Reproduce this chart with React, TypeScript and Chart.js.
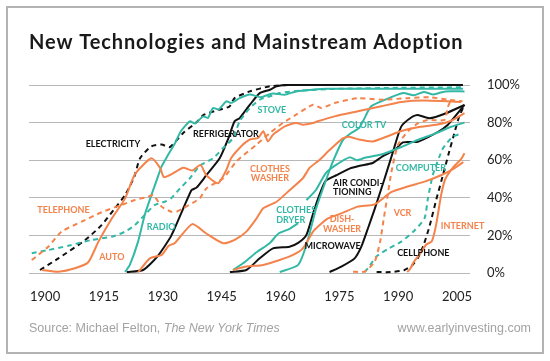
import React, { useEffect, useRef } from 'react';
import { Chart, registerables } from 'chart.js';

Chart.register(...registerables);

const ORANGE = '#f4834b';
const TEAL = '#33b8a5';
const BLACK = '#111111';

const yearTicks = [1900, 1915, 1930, 1945, 1960, 1975, 1990, 2005];
const pctTicks = [0, 20, 40, 60, 80, 100];

// [year, percent of households]
const electricity = [[1898.7,1.6],[1903.4,7.8],[1910.2,17.5],[1914.4,25.5],[1917.8,34.4],[1920.4,41.5],[1922.7,51],[1924.2,61],[1927.1,67.4],[1929.7,68.3],[1931.8,67],[1935.2,74.5],[1938.5,80],[1940.5,84.2],[1944.5,86.9],[1947,88.6],[1948.3,93],[1952.2,96.6],[1957.3,99.3],[1962,100],[2006.5,100]];
const refrigerator = [[1920.8,0.5],[1925,1.6],[1928.6,8.7],[1932.2,20],[1937.3,44],[1938.6,45.4],[1941.1,52],[1944.5,61],[1946.6,71],[1948.3,80.7],[1949.6,82.4],[1952.2,89.5],[1954.7,95.7],[1957.3,97.5],[1959,99.3],[1962,100],[2006.5,100]];
const telephone = [[1896.6,6.9],[1900.8,14],[1904.2,22],[1909.3,27.3],[1914.4,32.3],[1919.5,36.2],[1922.9,38.8],[1926.3,40.6],[1927.6,41.5],[1929.7,35.3],[1932.2,32.6],[1933.5,32.6],[1935.2,34.4],[1939.4,39.7],[1941.1,45],[1945.4,50.4],[1948.8,59.4],[1953.9,68.3],[1957.3,74.5],[1960.6,79.8],[1964,84.2],[1968.3,89.5],[1970.4,87.8],[1973.8,90.4],[1979.7,93],[1985.7,92.2],[1992.4,93],[1998,93.5],[2002.6,92.2],[2006.4,91.3]];
const auto = [[1899.2,1.6],[1903.4,0.7],[1907.6,2.5],[1911,5.7],[1913.6,16.7],[1917,29],[1920.4,39.7],[1922.9,52.5],[1927.1,61],[1929.3,55.9],[1930.3,51],[1932.6,53],[1935.2,56],[1937.5,54.5],[1939.6,57.5],[1941.1,52],[1944.1,47.7],[1946.2,54.8],[1947.4,61],[1950,67.4],[1952.2,71],[1954.3,71.8],[1955.6,75.4],[1956.8,70],[1958.1,73.6],[1959.8,76.2],[1961.1,78],[1964,79.8],[1965.7,78.9],[1968.3,79.8],[1969.5,80.7],[1973.8,83.3],[1979.7,86],[1985.7,88.7],[1990.8,91],[1996.7,91.7],[2006,91]];
const clothesWasher = [[1923.7,0.3],[1926.7,7.8],[1929.7,9.6],[1931.5,14.5],[1933.1,16],[1937.5,26],[1941.1,21],[1945.4,15.8],[1948.3,17.6],[1951.3,22],[1953.9,29],[1955.6,34.4],[1959,37.9],[1962.3,44],[1965.7,50.4],[1967.4,55.9],[1970,60.3],[1972.5,65.4],[1975.9,71.6],[1977.5,72.5],[1980,71],[1983.5,70],[1987,72.5],[1990.8,75.5],[1995,77.5],[2000,79],[2003.5,81],[2006.9,85]];
const dishwasher = [[1947.9,1.6],[1951.3,3.4],[1955.6,4.3],[1959.8,6.9],[1963.2,9.6],[1965.7,13.1],[1968.3,22],[1970,25.5],[1972.1,29],[1975.5,31.7],[1979.7,35.3],[1984,36.5],[1988.2,43],[1992.4,46],[1996.7,48.6],[2000.9,52],[2004.3,55.7],[2006.6,59]];
const internet = [[1992.3,0.5],[1993,2],[1994,6],[1995.5,10],[1997.1,15],[1998.6,17],[1999.7,26],[2000.9,41],[2002,50],[2004.1,56.5],[2006,60.5],[2006.9,63.7]];
const vcr = [[1978.5,0.7],[1981.4,0.7],[1984,6],[1985.4,16.7],[1986.4,30],[1987.2,40],[1988.3,54],[1989.9,68],[1992.4,75.2],[1995,79.6],[1997.6,81.4],[2001.8,81.4],[2002.6,88],[2003.3,91.5]];
const stove = [[1896.6,10.5],[1900.8,12.2],[1905.9,14.5],[1911.9,17.6],[1917,19.3],[1920.4,22],[1922.9,25.5],[1925.4,30.9],[1928,36.2],[1930.5,37.9],[1932,39.5],[1934.4,45],[1936.9,50.4],[1939.4,57],[1942.8,61],[1945.4,66.5],[1947.9,71.8],[1949.6,80.7],[1952.2,87.8],[1954.7,92.2],[1957.3,94],[1959.8,95.7],[1965,97],[1975,98],[1990,98.5],[2006.5,98.8]];
const radio = [[1920.4,0.5],[1921.6,4.3],[1923.7,16.7],[1925.4,30.9],[1927.1,41.5],[1928.8,51.5],[1929.7,56.7],[1931.4,63],[1933.1,69],[1934.6,75.4],[1936.9,80.7],[1938.2,79.5],[1940.3,83.3],[1941.5,82.5],[1942.8,87.8],[1944.2,87],[1946.2,91.3],[1947.4,90.5],[1949.6,93],[1952.2,94.9],[1955,93.5],[1958,95.5],[1961,94.8],[1964,96.6],[1968,97.5],[1972,98],[2006.5,98]];
const colorTV = [[1959.8,0.5],[1964.5,4.3],[1966.6,14.9],[1969.1,34.4],[1971.7,50],[1973.5,60],[1975.9,70.7],[1978,74.5],[1980,77],[1982.3,86],[1983.1,88.7],[1985.7,91.3],[1991.2,95.7],[1994,94.5],[1996.5,96.3],[1999,95],[2002,96.6],[2006.9,96.6]];
const clothesDryer = [[1947.9,1.6],[1951,6],[1953.9,11],[1957.3,16],[1959.5,21],[1962.3,23.5],[1964.5,26.5],[1965.5,null],[1966.6,38.8],[1969,44],[1971.5,53],[1973.8,57],[1977.6,61.5],[1979.5,60],[1981.5,61.3],[1985.7,63],[1990.8,67],[1994.6,70.5],[1999.2,74],[2003.5,77.8],[2006.9,80]];
const computer = [[1981.4,0.4],[1982.3,2.5],[1984.4,8.7],[1987.4,12.8],[1990.8,16.7],[1994.1,22.5],[1996.7,29],[1997.6,40],[1998.8,52],[2000.5,61.9],[2001.4,66.3],[2003.9,72.5],[2006.4,74.3]];
const airConditioning = [[1947.1,0.5],[1951.3,1.6],[1954.7,7.8],[1958.1,13.1],[1962.3,14],[1964.5,16],[1966.6,20.2],[1968.5,33],[1970,42],[1971.5,49],[1974.2,52],[1977.6,55.5],[1980.2,57],[1983.5,58.5],[1986,62],[1989.1,65.4],[1991.2,69.5],[1995,69.8],[2000.1,75],[2002.6,78.7],[2006.9,89.4]];
const microwave = [[1972.5,0.5],[1975.5,3.4],[1978.9,7.8],[1980.6,14],[1982.3,23.8],[1984,34],[1986.5,50],[1988.6,64],[1990.8,78],[1993.5,83],[1995,84],[1998,82.3],[2002.2,85],[2006.9,89.4]];
const cellphone = [[1984.5,0.5],[1988,0.5],[1991.5,1.5],[1993.5,4],[1995,8],[1996.5,15],[1998,25],[1999.7,39],[2001.4,52],[2002.8,63],[2004,72],[2005.5,83],[2006.9,89.4]];

const seriesList = [
  { label: 'Telephone', data: telephone, color: ORANGE, dashed: true },
  { label: 'Auto', data: auto, color: ORANGE, dashed: false },
  { label: 'Clothes washer', data: clothesWasher, color: ORANGE, dashed: false },
  { label: 'Dishwasher', data: dishwasher, color: ORANGE, dashed: false },
  { label: 'VCR', data: vcr, color: ORANGE, dashed: true },
  { label: 'Internet', data: internet, color: ORANGE, dashed: false },
  { label: 'Stove', data: stove, color: TEAL, dashed: true },
  { label: 'Radio', data: radio, color: TEAL, dashed: false },
  { label: 'Color TV', data: colorTV, color: TEAL, dashed: false },
  { label: 'Clothes dryer', data: clothesDryer, color: TEAL, dashed: false },
  { label: 'Computer', data: computer, color: TEAL, dashed: true },
  { label: 'Electricity', data: electricity, color: BLACK, dashed: true },
  { label: 'Refrigerator', data: refrigerator, color: BLACK, dashed: false },
  { label: 'Air conditioning', data: airConditioning, color: BLACK, dashed: false },
  { label: 'Microwave', data: microwave, color: BLACK, dashed: false },
  { label: 'Cellphone', data: cellphone, color: BLACK, dashed: true },
];

// annotation labels anchored in data units (year, percent)
const seriesLabels = [
  { lines: ['ELECTRICITY'], year: 1917.3, pct: 68.4, color: BLACK, align: 'center' },
  { lines: ['REFRIGERATOR'], year: 1946.1, pct: 73.7, color: BLACK, align: 'center' },
  { lines: ['STOVE'], year: 1957.8, pct: 86.5, color: TEAL, align: 'center' },
  { lines: ['CLOTHES', 'WASHER'], year: 1957.3, pct: 52.9, color: ORANGE, align: 'center' },
  { lines: ['COLOR TV'], year: 1981.3, pct: 78.9, color: TEAL, align: 'center' },
  { lines: ['TELEPHONE'], year: 1904.7, pct: 33.7, color: ORANGE, align: 'center' },
  { lines: ['RADIO'], year: 1929.6, pct: 24.3, color: TEAL, align: 'center' },
  { lines: ['AUTO'], year: 1917, pct: 8.3, color: ORANGE, align: 'center' },
  { lines: ['CLOTHES', 'DRYER'], year: 1958.9, pct: 30.9, color: TEAL, align: 'left' },
  { lines: ['AIR CONDI-', 'TIONING'], year: 1973.4, pct: 45.5, color: BLACK, align: 'left' },
  { lines: ['DISH-', 'WASHER'], year: 1975.7, pct: 26.1, color: ORANGE, align: 'center' },
  { lines: ['MICROWAVE'], year: 1973.3, pct: 14.1, color: BLACK, align: 'center' },
  { lines: ['VCR'], year: 1991.1, pct: 31.9, color: ORANGE, align: 'center' },
  { lines: ['COMPUTER'], year: 1995.8, pct: 55.7, color: TEAL, align: 'center' },
  { lines: ['INTERNET'], year: 2006.4, pct: 25.2, color: ORANGE, align: 'center' },
  { lines: ['CELLPHONE'], year: 1996.4, pct: 10.6, color: BLACK, align: 'center' },
];

const TITLE = 'New Technologies and Mainstream Adoption';
const SOURCE_PREFIX = 'Source: Michael Felton, ';
const SOURCE_ITALIC = 'The New York Times';
const SITE = 'www.earlyinvesting.com';

const decorPlugin = {
  id: 'decor',
  beforeDraw(chart: any) {
    const ctx = chart.ctx;
    ctx.save();
    ctx.fillStyle = '#ffffff';
    ctx.fillRect(0, 0, chart.width, chart.height);
    ctx.strokeStyle = '#b3b3b3';
    ctx.lineWidth = 2;
    ctx.strokeRect(7, 7, 536, 346);
    ctx.restore();
  },
  afterDatasetsDraw(chart: any) {
    const ctx = chart.ctx;
    const xs = chart.scales.x;
    const ys = chart.scales.y;
    ctx.save();
    ctx.font = 'bold 9px Lato';
    ctx.textBaseline = 'middle';
    const lh = 9.5;
    seriesLabels.forEach((l) => {
      const px = xs.getPixelForValue(l.year);
      const py = ys.getPixelForValue(l.pct);
      ctx.fillStyle = l.color;
      ctx.textAlign = l.align;
      const n = l.lines.length;
      l.lines.forEach((t, i) => {
        ctx.fillText(t, px, py + (i - (n - 1) / 2) * lh);
      });
    });
    ctx.restore();
  },
  afterDraw(chart: any) {
    const ctx = chart.ctx;
    ctx.save();
    ctx.fillStyle = '#1a1a1a';
    ctx.font = 'bold 20px Lato';
    ctx.textAlign = 'left';
    ctx.textBaseline = 'alphabetic';
    try { (ctx as any).letterSpacing = '0.9px'; } catch (e) {}
    ctx.fillText(TITLE, 29, 49);
    try { (ctx as any).letterSpacing = '0px'; } catch (e) {}
    ctx.fillStyle = '#a3a3a3';
    ctx.font = '12.5px "Liberation Sans"';
    ctx.textBaseline = 'middle';
    ctx.fillText(SOURCE_PREFIX, 29, 329);
    const w = ctx.measureText(SOURCE_PREFIX).width;
    ctx.font = 'italic 12.5px "Liberation Sans"';
    ctx.fillText(SOURCE_ITALIC, 29 + w, 329);
    ctx.font = '12.5px "Liberation Sans"';
    ctx.textAlign = 'right';
    ctx.fillText(SITE, 531, 329);
    ctx.restore();
  },
};

export default function App() {
  const ref = useRef<HTMLCanvasElement | null>(null);
  useEffect(() => {
    if (!ref.current) return;
    const tickFont = { family: 'Lato', size: 13 };
    const chart = new Chart(ref.current, {
      type: 'line',
      data: {
        datasets: seriesList.map((s) => ({
          label: s.label,
          data: s.data.map(([x, y]) => ({ x, y })),
          borderColor: s.color,
          backgroundColor: s.color,
          borderWidth: 2,
          borderDash: s.dashed ? [5, 4] : [],
          pointRadius: 0,
          tension: 0.2,
          fill: false,
          clip: false,
          spanGaps: false,
        })),
      },
      options: {
        animation: false,
        responsive: false,
        devicePixelRatio: 1,
        layout: { padding: { left: 29, top: 85, right: 0, bottom: 0 } },
        plugins: { legend: { display: false }, tooltip: { enabled: false }, title: { display: false } },
        scales: {
          x: {
            type: 'linear',
            min: 1895.9,
            max: 2008.3,
            grid: { display: false, drawTicks: false },
            border: { display: false },
            ticks: { padding: 16, font: tickFont, color: '#222', autoSkip: false, maxRotation: 0, callback: (v: any) => String(v) },
            afterBuildTicks: (s: any) => { s.ticks = yearTicks.map((v) => ({ value: v })); },
            afterFit: (s: any) => { s.height = 88; },
          },
          y: {
            type: 'linear',
            position: 'right',
            min: 0,
            max: 100,
            grid: { color: '#b8b8b8', lineWidth: 1, drawTicks: false },
            border: { display: false },
            ticks: { padding: 17, font: tickFont, color: '#222', callback: (v: any) => v + '%' },
            afterBuildTicks: (s: any) => { s.ticks = pctTicks.map((v) => ({ value: v })); },
            afterFit: (s: any) => { s.width = 80; },
          },
        },
      },
      plugins: [decorPlugin],
    } as any);
    return () => chart.destroy();
  }, []);
  return (
    <div style={{ position: 'absolute', left: 0, top: 0, width: 550, height: 361, background: '#fff' }}>
      <canvas ref={ref} width={550} height={361} style={{ width: 550, height: 361, display: 'block' }} />
    </div>
  );
}
